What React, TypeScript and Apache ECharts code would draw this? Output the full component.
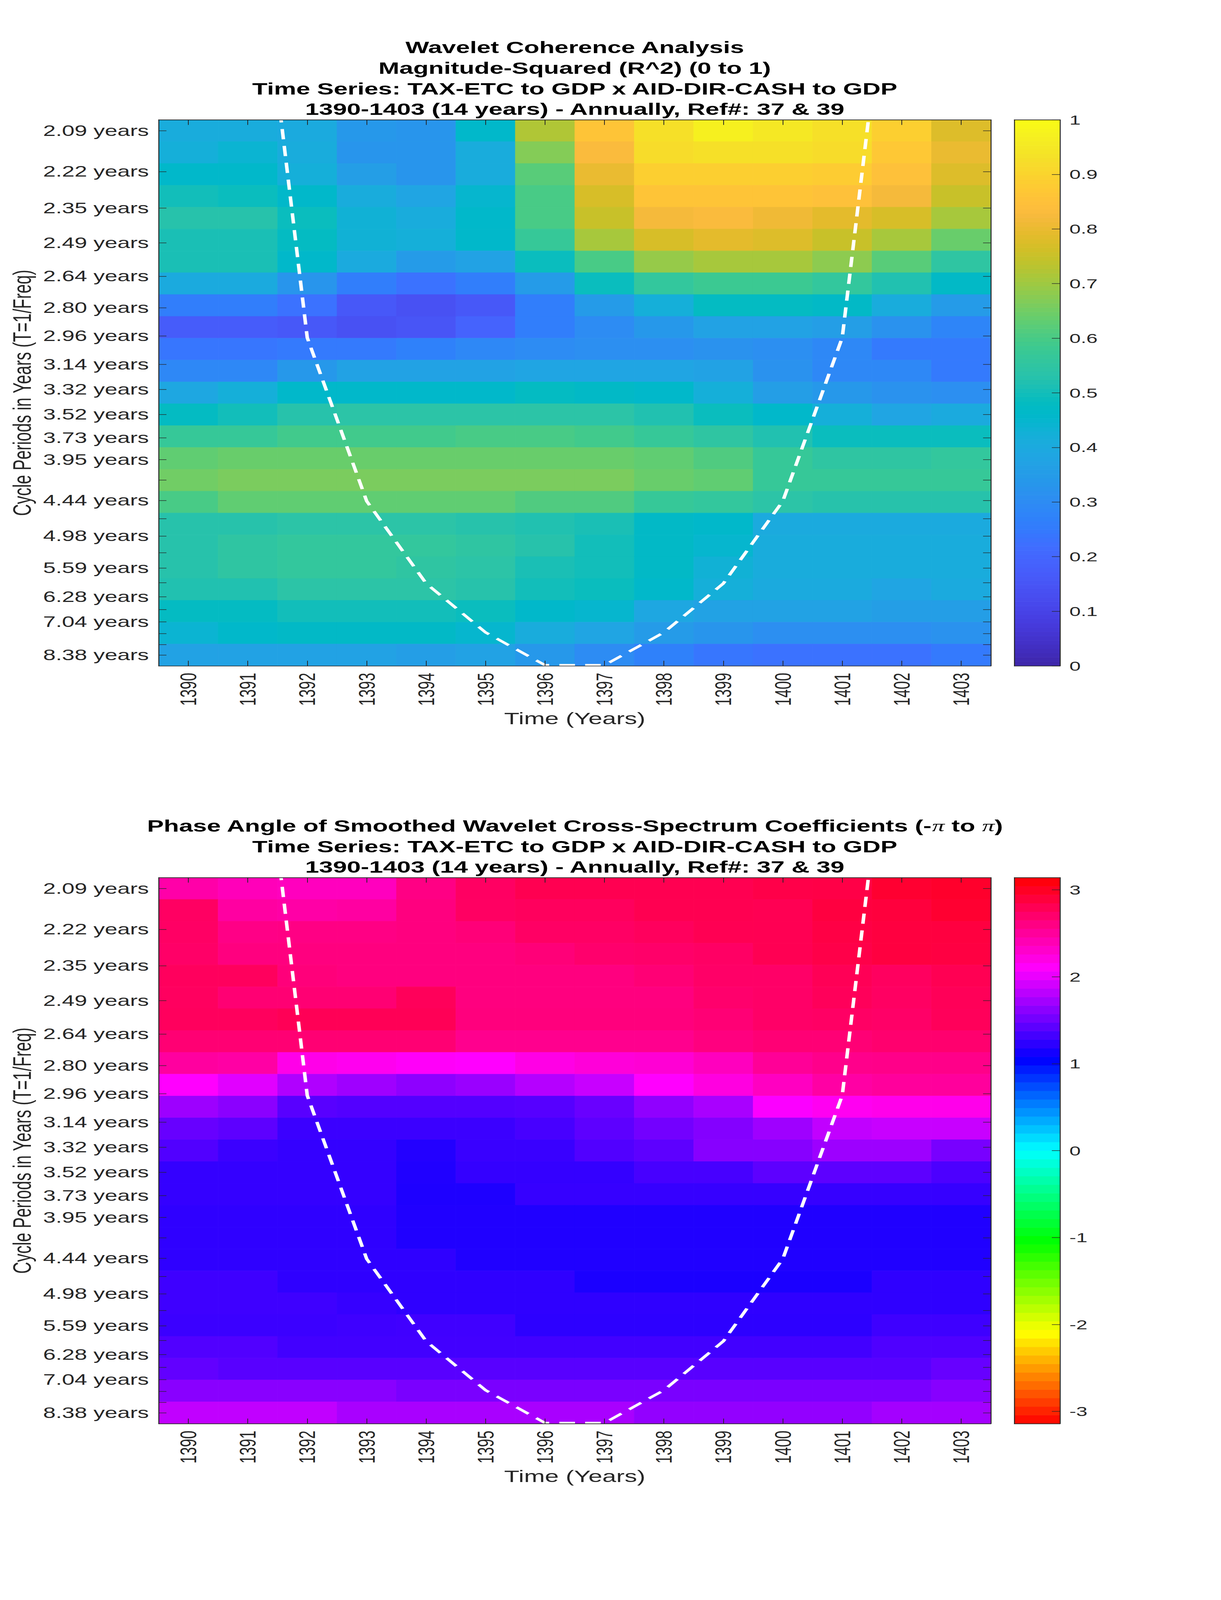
import React, { useEffect, useRef } from 'react';
import * as echarts from 'echarts';

// ---------------- data ----------------
const YEARS = [1390, 1391, 1392, 1393, 1394, 1395, 1396, 1397, 1398, 1399, 1400, 1401, 1402, 1403];

// wavelet periods (years), top row first
const PERIODS = [2.09, 2.22, 2.35, 2.49, 2.64, 2.8, 2.96, 3.14, 3.32, 3.52, 3.73, 3.95, 4.18, 4.44, 4.7, 4.98, 5.28, 5.59, 5.92, 6.28, 6.65, 7.04, 7.46, 7.91, 8.38];
const LABELED_PERIODS = [2.09, 2.22, 2.35, 2.49, 2.64, 2.8, 2.96, 3.14, 3.32, 3.52, 3.73, 3.95, 4.44, 4.98, 5.59, 6.28, 7.04, 8.38];

// magnitude-squared coherence, one row per period (top to bottom), one column per year
const COHERENCE = [
  [0.41, 0.41, 0.40, 0.34, 0.33, 0.46, 0.72, 0.86, 0.93, 0.97, 0.95, 0.93, 0.89, 0.78],
  [0.42, 0.44, 0.41, 0.33, 0.33, 0.41, 0.67, 0.83, 0.92, 0.93, 0.93, 0.92, 0.87, 0.80],
  [0.46, 0.46, 0.42, 0.36, 0.33, 0.41, 0.62, 0.80, 0.89, 0.89, 0.89, 0.88, 0.85, 0.78],
  [0.50, 0.49, 0.46, 0.41, 0.38, 0.45, 0.60, 0.77, 0.86, 0.86, 0.86, 0.85, 0.82, 0.75],
  [0.53, 0.53, 0.49, 0.43, 0.41, 0.46, 0.60, 0.75, 0.82, 0.83, 0.81, 0.79, 0.77, 0.71],
  [0.51, 0.51, 0.48, 0.43, 0.42, 0.46, 0.57, 0.71, 0.77, 0.79, 0.78, 0.75, 0.71, 0.64],
  [0.51, 0.51, 0.46, 0.40, 0.35, 0.37, 0.49, 0.60, 0.69, 0.71, 0.71, 0.68, 0.62, 0.55],
  [0.40, 0.40, 0.33, 0.26, 0.23, 0.26, 0.35, 0.49, 0.56, 0.58, 0.58, 0.56, 0.52, 0.47],
  [0.26, 0.26, 0.23, 0.16, 0.14, 0.16, 0.26, 0.35, 0.42, 0.48, 0.48, 0.47, 0.41, 0.35],
  [0.17, 0.17, 0.16, 0.14, 0.15, 0.19, 0.26, 0.30, 0.34, 0.37, 0.37, 0.36, 0.32, 0.28],
  [0.24, 0.24, 0.25, 0.25, 0.27, 0.29, 0.30, 0.31, 0.31, 0.32, 0.31, 0.29, 0.25, 0.25],
  [0.29, 0.29, 0.34, 0.37, 0.37, 0.37, 0.38, 0.38, 0.38, 0.37, 0.32, 0.29, 0.29, 0.25],
  [0.39, 0.42, 0.46, 0.46, 0.46, 0.46, 0.48, 0.47, 0.46, 0.42, 0.36, 0.34, 0.32, 0.31],
  [0.48, 0.50, 0.53, 0.54, 0.54, 0.54, 0.54, 0.54, 0.52, 0.49, 0.46, 0.42, 0.38, 0.40],
  [0.57, 0.57, 0.59, 0.59, 0.59, 0.60, 0.60, 0.59, 0.57, 0.55, 0.52, 0.49, 0.49, 0.49],
  [0.63, 0.64, 0.64, 0.64, 0.64, 0.64, 0.64, 0.64, 0.63, 0.61, 0.57, 0.55, 0.55, 0.56],
  [0.65, 0.66, 0.66, 0.66, 0.66, 0.66, 0.66, 0.66, 0.64, 0.63, 0.57, 0.57, 0.57, 0.57],
  [0.60, 0.63, 0.63, 0.63, 0.63, 0.63, 0.61, 0.61, 0.57, 0.56, 0.54, 0.53, 0.53, 0.53],
  [0.53, 0.53, 0.54, 0.54, 0.54, 0.53, 0.52, 0.51, 0.47, 0.46, 0.40, 0.40, 0.40, 0.40],
  [0.53, 0.55, 0.56, 0.56, 0.56, 0.55, 0.53, 0.50, 0.47, 0.45, 0.41, 0.41, 0.41, 0.41],
  [0.53, 0.55, 0.56, 0.56, 0.55, 0.54, 0.51, 0.50, 0.47, 0.43, 0.41, 0.41, 0.41, 0.41],
  [0.52, 0.52, 0.54, 0.54, 0.54, 0.53, 0.50, 0.49, 0.46, 0.42, 0.40, 0.40, 0.38, 0.40],
  [0.48, 0.48, 0.50, 0.50, 0.50, 0.49, 0.46, 0.45, 0.39, 0.37, 0.37, 0.37, 0.36, 0.36],
  [0.44, 0.46, 0.47, 0.47, 0.47, 0.45, 0.41, 0.38, 0.35, 0.33, 0.31, 0.31, 0.31, 0.32],
  [0.37, 0.37, 0.37, 0.37, 0.36, 0.37, 0.34, 0.30, 0.27, 0.24, 0.23, 0.23, 0.23, 0.25],
];

// phase angle (radians), same layout
const PHASE = [
  [2.45, 2.38, 2.36, 2.36, 2.60, 2.74, 2.81, 2.81, 2.81, 2.81, 2.84, 2.85, 2.94, 2.96],
  [2.74, 2.48, 2.46, 2.48, 2.62, 2.74, 2.76, 2.76, 2.81, 2.81, 2.80, 2.88, 2.89, 2.94],
  [2.73, 2.59, 2.60, 2.60, 2.62, 2.65, 2.73, 2.73, 2.76, 2.80, 2.80, 2.86, 2.88, 2.88],
  [2.72, 2.62, 2.62, 2.62, 2.62, 2.62, 2.65, 2.70, 2.71, 2.73, 2.80, 2.84, 2.88, 2.87],
  [2.76, 2.76, 2.64, 2.62, 2.62, 2.62, 2.62, 2.62, 2.66, 2.72, 2.72, 2.79, 2.75, 2.80],
  [2.75, 2.67, 2.67, 2.67, 2.77, 2.62, 2.62, 2.62, 2.62, 2.70, 2.72, 2.77, 2.74, 2.78],
  [2.76, 2.76, 2.79, 2.79, 2.79, 2.63, 2.63, 2.63, 2.63, 2.66, 2.72, 2.73, 2.72, 2.77],
  [2.67, 2.67, 2.67, 2.67, 2.67, 2.56, 2.56, 2.56, 2.56, 2.62, 2.66, 2.66, 2.69, 2.69],
  [2.49, 2.47, 2.19, 2.16, 2.12, 2.10, 2.20, 2.25, 2.27, 2.36, 2.52, 2.57, 2.58, 2.58],
  [2.10, 1.97, 1.77, 1.70, 1.63, 1.68, 1.79, 1.87, 2.10, 2.22, 2.35, 2.47, 2.50, 2.50],
  [1.69, 1.62, 1.41, 1.39, 1.39, 1.39, 1.40, 1.48, 1.64, 1.74, 2.08, 2.15, 2.18, 2.18],
  [1.47, 1.43, 1.29, 1.29, 1.29, 1.29, 1.34, 1.43, 1.52, 1.59, 1.70, 1.84, 1.87, 1.87],
  [1.38, 1.29, 1.26, 1.26, 1.19, 1.28, 1.28, 1.38, 1.43, 1.60, 1.60, 1.69, 1.69, 1.54],
  [1.26, 1.26, 1.26, 1.26, 1.18, 1.26, 1.26, 1.26, 1.34, 1.34, 1.43, 1.43, 1.43, 1.36],
  [1.26, 1.26, 1.26, 1.26, 1.17, 1.17, 1.27, 1.27, 1.27, 1.27, 1.27, 1.27, 1.27, 1.27],
  [1.24, 1.24, 1.24, 1.24, 1.18, 1.18, 1.18, 1.18, 1.18, 1.18, 1.18, 1.18, 1.18, 1.18],
  [1.24, 1.24, 1.24, 1.24, 1.18, 1.18, 1.18, 1.18, 1.18, 1.18, 1.18, 1.18, 1.18, 1.18],
  [1.24, 1.24, 1.24, 1.24, 1.24, 1.18, 1.18, 1.18, 1.18, 1.18, 1.18, 1.18, 1.18, 1.18],
  [1.30, 1.30, 1.24, 1.24, 1.24, 1.24, 1.24, 1.16, 1.16, 1.16, 1.16, 1.16, 1.24, 1.24],
  [1.30, 1.30, 1.30, 1.27, 1.24, 1.24, 1.24, 1.24, 1.24, 1.24, 1.24, 1.24, 1.24, 1.24],
  [1.29, 1.29, 1.29, 1.30, 1.31, 1.31, 1.23, 1.23, 1.23, 1.23, 1.23, 1.23, 1.30, 1.30],
  [1.38, 1.38, 1.32, 1.32, 1.32, 1.32, 1.32, 1.32, 1.32, 1.32, 1.32, 1.32, 1.37, 1.37],
  [1.45, 1.41, 1.41, 1.41, 1.41, 1.41, 1.41, 1.41, 1.41, 1.41, 1.41, 1.41, 1.41, 1.47],
  [1.61, 1.61, 1.61, 1.61, 1.55, 1.55, 1.55, 1.55, 1.55, 1.55, 1.55, 1.55, 1.55, 1.60],
  [1.84, 1.84, 1.84, 1.74, 1.74, 1.74, 1.74, 1.74, 1.65, 1.65, 1.65, 1.65, 1.72, 1.72],
];

// cone of influence (period in years at each year)
const COI_YEARS = [1391, 1392, 1393, 1394, 1395, 1396, 1397, 1398, 1399, 1400, 1401, 1402];
const COI_PERIODS = [1.48, 2.97, 4.45, 5.94, 7.42, 8.9, 8.9, 7.42, 5.94, 4.45, 2.97, 1.48];

const CB1_TICKS = [0, 0.1, 0.2, 0.3, 0.4, 0.5, 0.6, 0.7, 0.8, 0.9, 1];
const CB2_TICKS = [-3, -2, -1, 0, 1, 2, 3];

const PARULA = [
  '#3E26A8', '#402AB4', '#422EC0', '#4332CB', '#4537D5', '#463CDE', '#4741E5', '#4747EB',
  '#484DF0', '#4852F4', '#4758F8', '#465EFB', '#4563FD', '#4269FE', '#3E6FFF', '#3875FE',
  '#327CFC', '#2F81FA', '#2E87F7', '#2D8CF3', '#2B91EF', '#2796EB', '#259BE8', '#23A0E5',
  '#20A5E3', '#1CA9DF', '#18ADDB', '#12B1D6', '#08B5D0', '#01B8CA', '#02BAC3', '#0BBDBD',
  '#19BFB6', '#24C1AE', '#2CC4A7', '#31C69F', '#37C897', '#3FCA8E', '#4ACB84', '#57CC7A',
  '#64CD6F', '#72CD64', '#81CC59', '#8FCB4E', '#9DC943', '#ABC739', '#B9C431', '#C5C22A',
  '#D1BF27', '#DCBD29', '#E6BB2D', '#F0BA36', '#F8BA3D', '#FEBE3C', '#FEC338', '#FEC934',
  '#FCCF30', '#FAD62D', '#F7DC2A', '#F5E327', '#F5E924', '#F6EF20', '#F7F51B', '#F9FB15',
];
const HSV_STOPS = ['#FF0000', '#FFFF00', '#00FF00', '#00FFFF', '#0000FF', '#FF00FF', '#FF0000'];

// ---------------- layout ----------------
const W = 3125;
const H = 6252;
const PLOT_LEFT = 406;
const PLOT_W = 2130;
const PLOT_H = 2134;
const CB_LEFT = 2596;
const CB_W = 117;
const FONT = '"Liberation Sans", Arial, Helvetica, sans-serif';
const AX = '#262626';

type Panel = {
  top: number;
  values: number[][];
  vmin: number;
  vmax: number;
  colors: string[];
  cbTicks: number[];
  bands: number;
  titles: string[];
};

const PANELS: Panel[] = [
  {
    top: 468,
    values: COHERENCE,
    vmin: 0,
    vmax: 1,
    colors: PARULA,
    cbTicks: CB1_TICKS,
    bands: 128,
    titles: [
      'Wavelet Coherence Analysis',
      'Magnitude-Squared (R^2) (0 to 1)',
      'Time Series: TAX-ETC to GDP x AID-DIR-CASH to GDP',
      '1390-1403 (14 years) - Annually, Ref#: 37 & 39',
    ],
  },
  {
    top: 3429,
    values: PHASE,
    vmin: -Math.PI,
    vmax: Math.PI,
    colors: HSV_STOPS,
    cbTicks: CB2_TICKS,
    bands: 64,
    titles: [
      'Phase Angle of Smoothed Wavelet Cross-Spectrum Coefficients (-{pi|π} to {pi|π})',
      'Time Series: TAX-ETC to GDP x AID-DIR-CASH to GDP',
      '1390-1403 (14 years) - Annually, Ref#: 37 & 39',
    ],
  },
];

function buildOption() {
  const f0 = 1 / PERIODS[0];
  const fN = 1 / PERIODS[PERIODS.length - 1];
  const half = (f0 - fN) / (PERIODS.length - 1) / 2;
  const fMin = fN - half;
  const fMax = f0 + half;
  const tickFreqs = PERIODS.map((p) => 1 / p);
  const labelFreqs = LABELED_PERIODS.map((p) => 1 / p);

  const grid: any[] = [];
  const xAxis: any[] = [];
  const yAxis: any[] = [];
  const series: any[] = [];
  const visualMap: any[] = [];
  const graphic: any[] = [];

  const lineStyle = { color: AX, width: 2.5 };
  const tickStyle = { color: AX, width: 2 };

  PANELS.forEach((p) => {
    const gH = grid.length;
    grid.push({ left: PLOT_LEFT, top: p.top, width: PLOT_W, height: PLOT_H });
    const gC = grid.length;
    grid.push({ left: CB_LEFT, top: p.top, width: CB_W, height: PLOT_H });

    const xCat = xAxis.length;
    const xBase = {
      type: 'category',
      gridIndex: gH,
      data: YEARS.map(String),
      z: 10,
      axisLine: { show: true, onZero: false, lineStyle },
      axisTick: { show: true, inside: true, alignWithLabel: true, length: 20, lineStyle: tickStyle },
      splitLine: { show: false },
    };
    xAxis.push({
      ...xBase,
      position: 'bottom',
      axisLabel: { show: true, interval: 0, rotate: 90, margin: 27, fontSize: 58, color: AX, fontFamily: FONT },
    });
    xAxis.push({ ...xBase, position: 'top', axisLabel: { show: false } });

    const xCb = xAxis.length;
    const xCbBase = {
      type: 'value',
      gridIndex: gC,
      min: 0,
      max: 1,
      z: 10,
      axisLine: { show: true, onZero: false, lineStyle },
      axisTick: { show: false },
      axisLabel: { show: false },
      splitLine: { show: false },
    };
    xAxis.push({ ...xCbBase, position: 'bottom' });
    xAxis.push({ ...xCbBase, position: 'top' });

    const yCat = yAxis.length;
    yAxis.push({
      type: 'category',
      gridIndex: gH,
      data: PERIODS.map((v) => v.toFixed(2)),
      inverse: true,
      show: false,
    });
    const yVal = yAxis.length;
    const yValBase = {
      type: 'value',
      gridIndex: gH,
      min: fMin,
      max: fMax,
      z: 10,
      axisLine: { show: true, onZero: false, lineStyle },
      axisTick: { show: true, inside: true, length: 20, lineStyle: tickStyle, customValues: tickFreqs },
      splitLine: { show: false },
    };
    yAxis.push({
      ...yValBase,
      position: 'left',
      axisLabel: {
        show: true,
        customValues: labelFreqs,
        formatter: (v: number) => (1 / v).toFixed(2) + ' years',
        margin: 25,
        fontSize: 58,
        color: AX,
        fontFamily: FONT,
      },
    });
    yAxis.push({ ...yValBase, position: 'right', axisLabel: { show: false } });

    const yCb = yAxis.length;
    yAxis.push({
      type: 'value',
      gridIndex: gC,
      min: p.vmin,
      max: p.vmax,
      position: 'right',
      z: 10,
      axisLine: { show: true, onZero: false, lineStyle },
      axisTick: { show: true, inside: true, length: 21, lineStyle: tickStyle, customValues: p.cbTicks },
      axisLabel: {
        show: true,
        customValues: p.cbTicks,
        formatter: (v: number) => String(Math.round(v * 10) / 10),
        margin: 24,
        fontSize: 52,
        color: AX,
        fontFamily: FONT,
      },
      splitLine: { show: false },
    });
    yAxis.push({
      type: 'value',
      gridIndex: gC,
      min: p.vmin,
      max: p.vmax,
      position: 'left',
      z: 10,
      axisLine: { show: true, onZero: false, lineStyle },
      axisTick: { show: false },
      axisLabel: { show: false },
      splitLine: { show: false },
    });

    const heatIdx = series.length;
    const cells: number[][] = [];
    p.values.forEach((row, r) => row.forEach((v, c) => cells.push([c, r, v])));
    series.push({
      type: 'custom',
      xAxisIndex: xCat,
      yAxisIndex: yCat,
      silent: true,
      z: 2,
      data: cells,
      renderItem: (_params: any, api: any) => {
        const pt = api.coord([api.value(0), api.value(1)]);
        const sz = api.size([1, 1]);
        const col = api.visual('color');
        return {
          type: 'rect',
          shape: { x: pt[0] - sz[0] / 2, y: pt[1] - sz[1] / 2, width: sz[0], height: sz[1] },
          style: { fill: col, stroke: col, lineWidth: 1 },
        };
      },
    });

    series.push({
      type: 'line',
      xAxisIndex: xCat,
      yAxisIndex: yVal,
      silent: true,
      z: 5,
      symbol: 'none',
      clip: true,
      data: COI_YEARS.map((y, i) => [String(y), 1 / COI_PERIODS[i]]),
      lineStyle: { color: '#ffffff', width: 9, type: [40, 26], cap: 'butt' },
    });

    const cbIdx = series.length;
    const step = (p.vmax - p.vmin) / p.bands;
    const bands: number[][] = [];
    for (let i = 0; i < p.bands; i++) {
      const lo = p.vmin + i * step;
      bands.push([lo, lo + step, lo + step / 2]);
    }
    series.push({
      type: 'custom',
      xAxisIndex: xCb,
      yAxisIndex: yCb,
      silent: true,
      z: 2,
      data: bands,
      renderItem: (_params: any, api: any) => {
        const a = api.coord([0, api.value(0)]);
        const b = api.coord([1, api.value(1)]);
        const col = api.visual('color');
        return {
          type: 'rect',
          shape: { x: a[0], y: b[1], width: b[0] - a[0], height: a[1] - b[1] },
          style: { fill: col, stroke: col, lineWidth: 1 },
        };
      },
    });

    visualMap.push({
      type: 'continuous',
      show: false,
      min: p.vmin,
      max: p.vmax,
      dimension: 2,
      seriesIndex: [heatIdx, cbIdx],
      inRange: { color: p.colors },
    });

    const lineGap = 80.5;
    const lastY = p.top - 41;
    p.titles.forEach((t, i) => {
      graphic.push({
        type: 'text',
        x: PLOT_LEFT + PLOT_W / 2,
        y: lastY - (p.titles.length - 1 - i) * lineGap,
        silent: true,
        style: {
          text: t,
          fill: '#000000',
          fontSize: 64,
          fontWeight: 'bold',
          fontFamily: FONT,
          align: 'center',
          verticalAlign: 'middle',
          rich: {
            pi: { fontSize: 64, fontWeight: 'normal', fontStyle: 'italic', fontFamily: '"Liberation Serif", "DejaVu Serif", serif', fill: '#000000' },
          },
        },
      });
    });

    graphic.push({
      type: 'text',
      x: 57,
      y: p.top + PLOT_H / 2,
      rotation: Math.PI / 2,
      silent: true,
      style: {
        text: 'Cycle Periods in Years (T=1/Freq)',
        fill: AX,
        fontSize: 64,
        fontFamily: FONT,
        align: 'center',
        verticalAlign: 'middle',
      },
    });
    graphic.push({
      type: 'text',
      x: PLOT_LEFT + PLOT_W / 2,
      y: p.top + PLOT_H + 205,
      silent: true,
      style: {
        text: 'Time (Years)',
        fill: AX,
        fontSize: 64,
        fontFamily: FONT,
        align: 'center',
        verticalAlign: 'middle',
      },
    });
  });

  return {
    animation: false,
    backgroundColor: '#ffffff',
    grid,
    xAxis,
    yAxis,
    visualMap,
    series,
    graphic,
  };
}

export default function App() {
  const ref = useRef<HTMLDivElement>(null);
  // the figure is 3125 x 6252; if the browser window is shorter, the whole figure is
  // squeezed vertically so that every part of it stays in view
  const viewH = typeof window !== 'undefined' && window.innerHeight > 0 ? window.innerHeight : H;
  const sy = Math.min(1, viewH / H);

  useEffect(() => {
    document.body.style.margin = '0';
    const chart = echarts.init(ref.current as HTMLDivElement, null, { renderer: 'svg', width: W, height: H });
    chart.setOption(buildOption() as any);
    return () => {
      chart.dispose();
    };
  }, []);

  return (
    <div style={{ width: W, height: Math.floor(H * sy), overflow: 'hidden', background: '#ffffff' }}>
      <div
        ref={ref}
        style={{ width: W, height: H, transform: sy < 1 ? `scale(1, ${sy})` : undefined, transformOrigin: '0 0' }}
      />
    </div>
  );
}
